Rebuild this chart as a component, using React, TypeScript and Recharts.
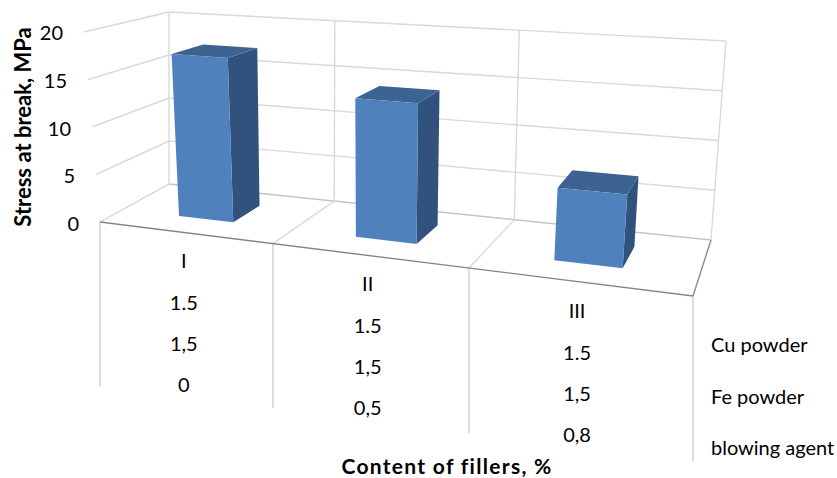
import React from 'react';
import { BarChart, Bar, XAxis, YAxis, Customized } from 'recharts';

const categories = ['I', 'II', 'III'];
const stressAtBreak = [17.3, 14.1, 7];
const cuPowder = ['1.5', '1.5', '1.5'];
const fePowder = ['1,5', '1,5', '1,5'];
const blowingAgent = ['0', '0,5', '0,8'];
const yTicks = [0, 5, 10, 15, 20];
const rowNames = ['Cu powder', 'Fe powder', 'blowing agent'];

const chartData = categories.map((name, i) => ({ name, stress: stressAtBreak[i] }));

const FONT = 'Lato, sans-serif';
const W = 837;
const H = 478;

// plot area of the chart = front plane of the 3D box
const LEFT = 100;
const RIGHT = 693;
const TOP = 31;
const BOTTOM = 222;
const Y_MAX = 20;

// corners of the box on the page
const FLOOR_FL = [100, 222];
const FLOOR_FR = [693, 296];
const FLOOR_BL = [169, 184];
const FLOOR_BR = [711, 240];
const TOP_FL = [84, 32];
const TOP_FR = [712, 74];
const TOP_BL = [169, 12];
const TOP_BR = [726, 41];

const BAR_FRONT = 0.335;
const BAR_BACK = 0.74;

const mix = (a: number[], b: number[], k: number) => [a[0] + (b[0] - a[0]) * k, a[1] + (b[1] - a[1]) * k];

// u across (0..1), v up (0..1), w into the page (0..1)
function box(u: number, v: number, w: number) {
    const k = 1.215 - w * (0.075 - 0.04 * v);
    const t = u / (u + k * (1 - u));
    const floor = mix(mix(FLOOR_FL, FLOOR_FR, t), mix(FLOOR_BL, FLOOR_BR, t), w);
    const roof = mix(mix(TOP_FL, TOP_FR, t), mix(TOP_BL, TOP_BR, t), w);
    return mix(floor, roof, v);
}

// pixel position from the library's scales -> page position
const project = (px: number, py: number, w: number) =>
    box((px - LEFT) / (RIGHT - LEFT), (BOTTOM - py) / (BOTTOM - TOP), w);

const pts = (list: number[][]) => list.map((p) => `${p[0].toFixed(1)},${p[1].toFixed(1)}`).join(' ');

function Bar3D({ x, y, width, height }: any) {
    const r = x + width;
    const b = y + height;
    const fl = project(x, b, BAR_FRONT);
    const fr = project(r, b, BAR_FRONT);
    const tl = project(x, y, BAR_FRONT);
    const tr = project(r, y, BAR_FRONT);
    const btl = project(x, y, BAR_BACK);
    const btr = project(r, y, BAR_BACK);
    const bbr = project(r, b, BAR_BACK);
    return (
        <g>
            <polygon points={pts([tr, btr, bbr, fr])} fill="#30527C" />
            <polygon points={pts([tl, tr, btr, btl])} fill="#3D6391" />
            <polygon points={pts([tl, tr, fr, fl])} fill="#4F81BD" />
        </g>
    );
}

function Line3D({ a, b, color = '#D9D9D9', sw = 1.4 }: any) {
    return <line x1={a[0]} y1={a[1]} x2={b[0]} y2={b[1]} stroke={color} strokeWidth={sw} />;
}

// walls, floor and the drop lines under the front edge
function Walls() {
    const drops = [386, 408, 433, 461];
    return (
        <g>
            {yTicks.map((tick) => {
                const v = tick / Y_MAX;
                return (
                    <g key={tick}>
                        <Line3D a={box(0, v, 0)} b={box(0, v, 1)} />
                        <Line3D a={box(0, v, 1)} b={box(1, v, 1)} color={tick === 0 ? '#C4C4C4' : '#D9D9D9'} />
                    </g>
                );
            })}
            {[0, 1, 2, 3].map((i) => {
                const u = i / 3;
                const front = box(u, 0, 0);
                return (
                    <g key={i}>
                        <Line3D a={box(u, 0, 1)} b={box(u, 1, 1)} />
                        <Line3D a={front} b={box(u, 0, 1)} color={i === 3 ? '#8C8C8C' : '#D9D9D9'} />
                        <Line3D a={front} b={[front[0], drops[i]]} sw={1.8} />
                    </g>
                );
            })}
            <Line3D a={box(0, 0, 0)} b={box(1, 0, 0)} color="#868686" sw={1.4} />
        </g>
    );
}

function Titles() {
    return (
        <g fontFamily={FONT} fill="#000">
            <text
                x={447}
                y={465}
                textAnchor="middle"
                dominantBaseline="central"
                fontSize={21}
                fontWeight={700}
                letterSpacing={1.3}
            >
                Content of fillers, %
            </text>
            <text
                x={22}
                y={127}
                textAnchor="middle"
                dominantBaseline="central"
                fontSize={22}
                fontWeight={700}
                transform="rotate(-90 22 127)"
            >
                Stress at break, MPa
            </text>
            {rowNames.map((name, i) => (
                <text key={name} x={711} y={344 + i * 51.5} dominantBaseline="central" fontSize={20}>
                    {name}
                </text>
            ))}
        </g>
    );
}

function ValueTick({ y, payload }: any) {
    const p = box(0, payload.value / Y_MAX, 0);
    return (
        <text x={p[0] - 21} y={y + 1} textAnchor="end" dominantBaseline="central" fontFamily={FONT} fontSize={20} fill="#000">
            {payload.value}
        </text>
    );
}

// category label with the filler contents stacked under it
function CategoryTick({ x, payload, index }: any) {
    const p = project(x, BOTTOM, 0);
    const rows = [payload.value, cuPowder[index], fePowder[index], blowingAgent[index]];
    const offsets = [28, 70, 111, 152];
    return (
        <g fontFamily={FONT} fontSize={20} fill="#000">
            {rows.map((row, i) => (
                <text key={i} x={p[0]} y={p[1] + offsets[i]} textAnchor="middle" dominantBaseline="central">
                    {row}
                </text>
            ))}
        </g>
    );
}

export default function App() {
    return (
        <div style={{ position: 'absolute', left: 0, top: 0, width: W, height: H }}>
            <BarChart
                width={W}
                height={H}
                data={chartData}
                margin={{ top: TOP, right: W - RIGHT, bottom: H - BOTTOM - 30, left: 0 }}
                barCategoryGap="34%"
            >
                <Customized component={<Walls />} />
                <XAxis dataKey="name" height={30} axisLine={false} tickLine={false} interval={0} tick={<CategoryTick />} />
                <YAxis
                    width={LEFT}
                    domain={[0, Y_MAX]}
                    ticks={yTicks}
                    axisLine={false}
                    tickLine={false}
                    tick={<ValueTick />}
                />
                <Bar dataKey="stress" isAnimationActive={false} shape={<Bar3D />} />
                <Customized component={<Titles />} />
            </BarChart>
        </div>
    );
}
